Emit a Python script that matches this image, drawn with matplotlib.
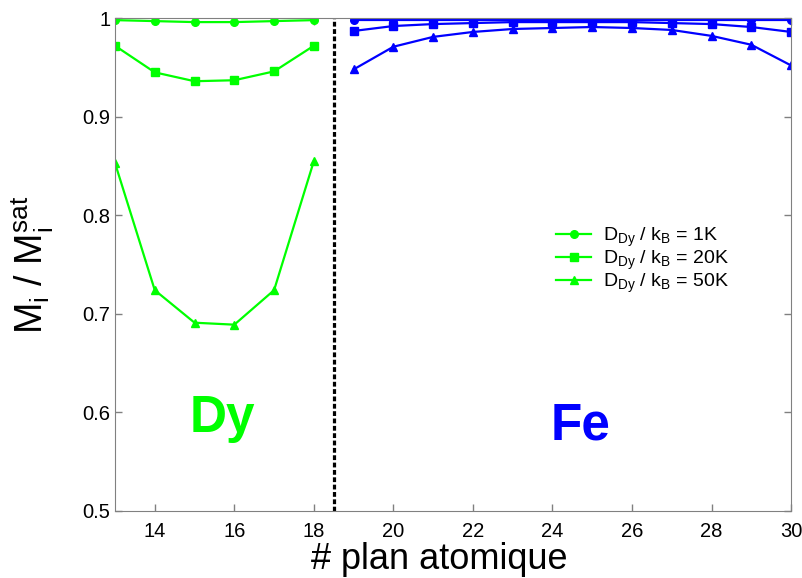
import matplotlib
matplotlib.use('Agg')
import matplotlib.pyplot as plt

plt.rcParams['font.family'] = ['Liberation Sans', 'DejaVu Sans']
plt.rcParams['mathtext.fontset'] = 'custom'
plt.rcParams['mathtext.rm'] = 'Liberation Sans'
plt.rcParams['mathtext.it'] = 'Liberation Sans'

# atomic planes
dy_planes = [13, 14, 15, 16, 17, 18]
fe_planes = [19, 20, 21, 22, 23, 24, 25, 26, 27, 28, 29, 30]

# Dy layer magnetisation
dy_1k = [0.998, 0.997, 0.996, 0.996, 0.997, 0.998]
dy_20k = [0.972, 0.945, 0.936, 0.937, 0.946, 0.972]
dy_50k = [0.853, 0.724, 0.691, 0.689, 0.724, 0.855]

# Fe layer magnetisation
fe_1k = [0.998, 0.998, 0.998, 0.998, 0.998, 0.998, 0.998, 0.998, 0.998, 0.998, 0.998, 0.998]
fe_20k = [0.987, 0.992, 0.994, 0.995, 0.996, 0.996, 0.996, 0.996, 0.995, 0.994, 0.991, 0.986]
fe_50k = [0.948, 0.971, 0.981, 0.986, 0.989, 0.990, 0.991, 0.990, 0.988, 0.982, 0.973, 0.952]

labels = [r'D$_\mathregular{Dy}$ / k$_\mathregular{B}$ = 1K',
          r'D$_\mathregular{Dy}$ / k$_\mathregular{B}$ = 20K',
          r'D$_\mathregular{Dy}$ / k$_\mathregular{B}$ = 50K']

green = '#00ff00'
blue = '#0000ff'

fig = plt.figure(figsize=(8.02, 5.78), dpi=100)
ax = fig.add_axes([0.1434, 0.116, 0.843, 0.8526])

ax.plot(dy_planes, dy_1k, '-o', color=green, lw=1.6, ms=5.5, label=labels[0])
ax.plot(dy_planes, dy_20k, '-s', color=green, lw=1.6, ms=5.5, label=labels[1])
ax.plot(dy_planes, dy_50k, '-^', color=green, lw=1.6, ms=6, label=labels[2])
ax.plot(fe_planes, fe_1k, '-o', color=blue, lw=1.6, ms=5.5)
ax.plot(fe_planes, fe_20k, '-s', color=blue, lw=1.6, ms=5.5)
ax.plot(fe_planes, fe_50k, '-^', color=blue, lw=1.6, ms=6)

# interface
ax.axvline(18.5, color='black', lw=2.3, dashes=(1.5, 0.8))

ax.text(15.7, 0.58, 'Dy', color=green, fontsize=37, fontweight='bold', ha='center', va='baseline')
ax.text(24.7, 0.573, 'Fe', color=blue, fontsize=37, fontweight='bold', ha='center', va='baseline')

ax.set_xlim(13, 30)
ax.set_ylim(0.5, 1.0)
ax.set_xticks([14, 16, 18, 20, 22, 24, 26, 28, 30])
ax.set_yticks([0.5, 0.6, 0.7, 0.8, 0.9, 1.0])
ax.set_yticklabels(['0.5', '0.6', '0.7', '0.8', '0.9', '1'])
ax.tick_params(direction='in', length=5, width=1, colors='#808080', labelcolor='black',
               labelsize=14.5, top=True, right=True)
ax.tick_params(axis='x', pad=8)
for s in ax.spines.values():
    s.set_color('#808080')

ax.set_xlabel('# plan atomique', fontsize=26)
ax.set_ylabel(r'M$_\mathregular{i}$ / M$_\mathregular{i}^\mathregular{sat}$', fontsize=27)
ax.yaxis.set_label_coords(-0.087, 0.5)
ax.xaxis.set_label_coords(0.48, -0.062)

ax.legend(loc='upper left', bbox_to_anchor=(0.653, 0.579), frameon=False, fontsize=14,
          numpoints=1, handlelength=1.75, handletextpad=0.65, labelspacing=0.0,
          borderaxespad=0, borderpad=0)

fig.savefig('out.png', dpi=100)
